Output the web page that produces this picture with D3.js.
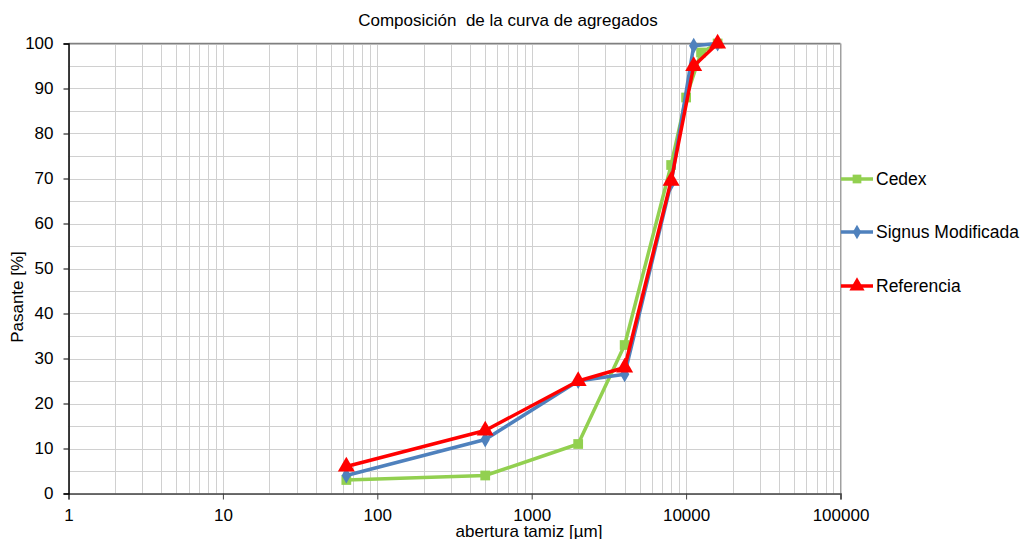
<!DOCTYPE html>
<html><head><meta charset="utf-8">
<script src="https://cdn.jsdelivr.net/npm/d3@7"></script>
<style>body{margin:0;background:#fff}svg{display:block;font-family:"Liberation Sans",Arial,sans-serif}</style>
</head><body><svg id="c" width="1020" height="539"></svg>
<script>
const xTicks = [1, 10, 100, 1000, 10000, 100000];
const yTicks = [0, 10, 20, 30, 40, 50, 60, 70, 80, 90, 100];
const cedexX = [63, 500, 2000, 4000, 8000, 10000, 12500, 16000];
const cedexY = [3, 4, 11, 33, 73, 88, 98, 100];
const signusX = [63, 500, 2000, 4000, 8000, 11200, 16000];
const signusY = [4, 12, 25, 26.5, 69, 99.5, 100];
const refX = [63, 500, 2000, 4000, 8000, 11200, 16000];
const refY = [6, 14, 25, 28, 69.5, 95, 100];
const seriesNames = ["Cedex", "Signus Modificada", "Referencia"];
const seriesColors = ["#92d050", "#4f81bd", "#ff0000"];

const svg = d3.select("#c");
const L = 68.5, R = 840.5, T = 43.5, B = 493.5;
const x = d3.scaleLog().domain([1, 100000]).range([L, R]);
const y = d3.scaleLinear().domain([0, 100]).range([B, T]);

// grid
const g = svg.append("g");
const vlines = [];
for (let e = 0; e < 5; e++) for (let m = 1; m <= 9; m++) vlines.push(m * Math.pow(10, e));
vlines.push(100000);
g.selectAll(".vg").data(vlines).enter().append("line")
  .attr("x1", d => Math.round(x(d)) + 0.5).attr("x2", d => Math.round(x(d)) + 0.5)
  .attr("y1", T).attr("y2", B).attr("stroke", "#d0d0d0").attr("stroke-width", 1);
const hl = d3.range(0, 101, 5);
g.selectAll(".hg").data(hl).enter().append("line")
  .attr("x1", L).attr("x2", R)
  .attr("y1", d => Math.round(y(d)) + 0.5).attr("y2", d => Math.round(y(d)) + 0.5)
  .attr("stroke", "#d0d0d0").attr("stroke-width", 1);
// top & right border
svg.append("line").attr("x1", L).attr("x2", R).attr("y1", T).attr("y2", T).attr("stroke", "#808080").attr("stroke-width", 1.5);
svg.append("line").attr("x1", R).attr("x2", R).attr("y1", T).attr("y2", B).attr("stroke", "#a0a0a0").attr("stroke-width", 1);

// axes
const xAxis = d3.axisBottom(x).tickValues(xTicks).tickFormat(d3.format("d")).tickSize(6);
const ax = svg.append("g").attr("transform", `translate(0,${B})`).call(xAxis);
ax.select(".domain").attr("stroke", "#404040").attr("stroke-width", 1.5);
ax.selectAll(".tick line").attr("stroke", "#404040");
ax.selectAll("text").attr("font-size", 17).attr("fill", "#000").attr("y", 15).attr("dy", "0.71em");
const yAxis = d3.axisLeft(y).tickValues(yTicks).tickSize(5).tickPadding(10);
const ay = svg.append("g").attr("transform", `translate(${L},0)`).call(yAxis);
ay.select(".domain").attr("stroke", "#000").attr("stroke-width", 1.5);
ay.selectAll(".tick line").attr("stroke", "#000");
ay.selectAll("text").attr("font-size", 17).attr("fill", "#000");

// titles
svg.append("text").attr("x", 508).attr("y", 26).attr("text-anchor", "middle").attr("font-size", 17).text("Composición\u00a0 de la curva de agregados");
svg.append("text").attr("x", 529).attr("y", 537).attr("text-anchor", "middle").attr("font-size", 17).text("abertura tamiz [µm]");
svg.append("text").attr("transform", "translate(23,297) rotate(-90)").attr("text-anchor", "middle").attr("font-size", 17).text("Pasante [%]");

// series
const series = [
  {xs: cedexX, ys: cedexY, sym: d3.symbolSquare, size: 95},
  {xs: signusX, ys: signusY, sym: d3.symbolDiamond, size: 75},
  {xs: refX, ys: refY, sym: d3.symbolTriangle, size: 125}
];
const line = d3.line().x(d => x(d[0])).y(d => y(d[1]));
series.forEach((s, i) => {
  const pts = s.xs.map((v, j) => [v, s.ys[j]]);
  svg.append("path").datum(pts).attr("d", line).attr("fill", "none")
    .attr("stroke", seriesColors[i]).attr("stroke-width", 3.5).attr("stroke-linejoin", "round");
  svg.selectAll(".m" + i).data(pts).enter().append("path")
    .attr("transform", d => `translate(${x(d[0])},${y(d[1])})`)
    .attr("d", d3.symbol().type(s.sym).size(s.size)).attr("fill", seriesColors[i]);
});

// legend
const legY = [179, 232, 286];
series.forEach((s, i) => {
  const lg = svg.append("g").attr("transform", `translate(841,${legY[i]})`);
  lg.append("line").attr("x1", 0).attr("x2", 32).attr("stroke", seriesColors[i]).attr("stroke-width", 3.5);
  lg.append("path").attr("transform", "translate(16,0)").attr("d", d3.symbol().type(s.sym).size(s.size * 0.8)).attr("fill", seriesColors[i]);
  lg.append("text").attr("x", 35).attr("y", 6).attr("font-size", 17.5).text(seriesNames[i]);
});
</script></body></html>
